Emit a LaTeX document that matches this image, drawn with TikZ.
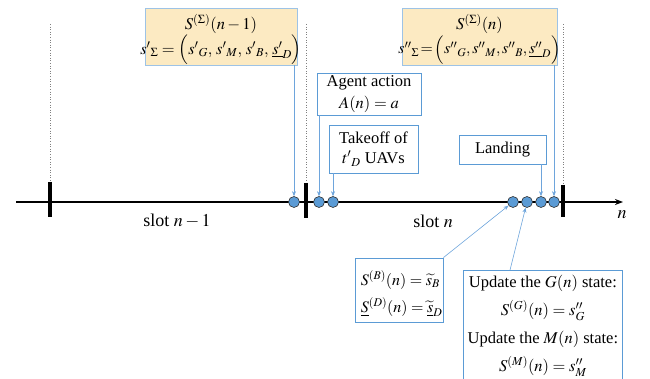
\documentclass[tikz,border=0pt]{standalone}
\usepackage{mathptmx}
\usepackage{fontspec}
\setmainfont{Liberation Serif}
\usetikzlibrary{arrows.meta}
\definecolor{boxfill}{RGB}{252,234,194}
\definecolor{lightb}{RGB}{157,195,230}
\definecolor{midb}{RGB}{91,155,213}
\definecolor{arrb}{RGB}{110,165,220}
\definecolor{dotfill}{RGB}{91,155,213}
\begin{document}
\begin{tikzpicture}[x=1pt,y=-1pt, font=\fontsize{16.5}{20}\selectfont,
 statebox/.style={draw=lightb, fill=boxfill, line width=0.8pt, inner sep=0pt, align=center},
 evbox/.style={draw=midb, line width=0.8pt, inner sep=0pt, align=center},
 dot/.style={circle, draw=black!80, fill=dotfill, line width=0.6pt, minimum size=11pt, inner sep=0pt},
 arr/.style={draw=arrb, line width=0.6pt, -{Stealth[length=5pt,width=4pt]}},
 tickmark/.style={line width=3.5pt},
 guide/.style={draw=gray, dotted, line width=0.6pt},
 txt/.style={inner sep=0pt}]
\useasboundingbox (0,0) rectangle (650,379);
\clip (0,0) rectangle (650,379);
% guides
\draw[guide] (50,24) -- (50,182);
\draw[guide] (306,24) -- (306,183);
\draw[guide] (563,24) -- (563,185);
% axis
\coordinate (axL) at (16,202);
\coordinate (axR) at (623,202);
\draw[line width=1.6pt, -{Stealth[length=8pt,width=6pt]}] (axL) -- (axR);
\node (nlab) at (622,215) {\fontsize{18}{20}\selectfont$n$};
\draw[tickmark] (50,182) -- (50,217);
\draw[tickmark] (306,183) -- (306,218);
\draw[tickmark] (563,185) -- (563,217);
\node (s1) at (177,221) {\fontsize{18}{20}\selectfont slot $n-1$};
\node (s2) at (433,221) {\fontsize{18}{20}\selectfont slot $n$};
% dots
\node[dot] (c1) at (294,202) {};
\node[dot] (c2) at (319,202) {};
\node[dot] (c3) at (333,202) {};
\node[dot] (c4) at (513,202) {};
\node[dot] (c5) at (527,202) {};
\node[dot] (c6) at (541,202) {};
\node[dot] (c7) at (554,202) {};
% state boxes
\node[statebox, minimum width=152pt, minimum height=57pt] (b1) at (221,36.5) {};
\node[txt] (b1a) at (221,24) {$S^{(\Sigma)}(n-1)$};
\node[txt] (b1b) at (221,50) {${s'}_{\Sigma}=\Bigl({s'}_{G},\,{s'}_{M},\,{s'}_{B},\,\underline{s'}_{D}\Bigr)$};
\node[statebox, minimum width=155pt, minimum height=57pt] (b2) at (479.5,36.5) {};
\node[txt] (b2a) at (479.5,24) {$S^{(\Sigma)}(n)$};
\node[txt, font=\fontsize{15.8}{19}\selectfont] (b2b) at (479.5,50) {${s''}_{\Sigma}\!=\!\Bigl({s''}_{G},{s''}_{M},{s''}_{B},\underline{s''}_{D}\Bigr)$};
% event boxes
\node[evbox, minimum width=104pt, minimum height=42pt] (ag) at (369,94)
 {Agent action\\[2pt] $A(n)=a$};
\node[evbox, minimum width=89pt, minimum height=48pt] (to) at (373.5,149)
 {Takeoff of\\[0pt] ${t'}_{D}$ UAVs};
\node[evbox, minimum width=87pt, minimum height=29pt] (ld) at (502.5,149.5) {Landing};
\node[evbox, minimum width=88pt, minimum height=64pt] (bb) at (399,290) {};
\node[anchor=north west, align=left, inner sep=0pt, font=\fontsize{16}{20}\selectfont] (bt) at ([xshift=6pt,yshift=-13pt]bb.north west)
 {$S^{(B)}(n)=\widetilde{s}_{B}$\\[7pt] $\underline{S}^{(D)}(n)=\widetilde{\underline{s}}_{D}$};
\node[evbox, minimum width=159pt, minimum height=125pt, anchor=north west] (ub) at (463,270) {};
\node[anchor=north, align=center, inner sep=0pt] (ut) at ([yshift=-5pt]ub.north)
 {Update the $G(n)$ state:\\[8pt] $S^{(G)}(n)=s''_{G}$\\[8pt] Update the $M(n)$ state:\\[8pt] $S^{(M)}(n)=s''_{M}$};
% connectors
\coordinate (u1) at (510,270);
\draw[arr] (c1 |- b1.south) -- (c1.north);
\draw[arr] (c2 |- ag.south) -- (c2.north);
\draw[arr] (c3 |- to.south) -- (c3.north);
\draw[arr] (c6 |- ld.south) -- (c6.north);
\draw[arr] (c7 |- b2.south) -- (c7.north);
\draw[arr] (bb.north east) -- (c4);
\draw[arr] (u1) -- (c5);
\end{tikzpicture}
\end{document}
